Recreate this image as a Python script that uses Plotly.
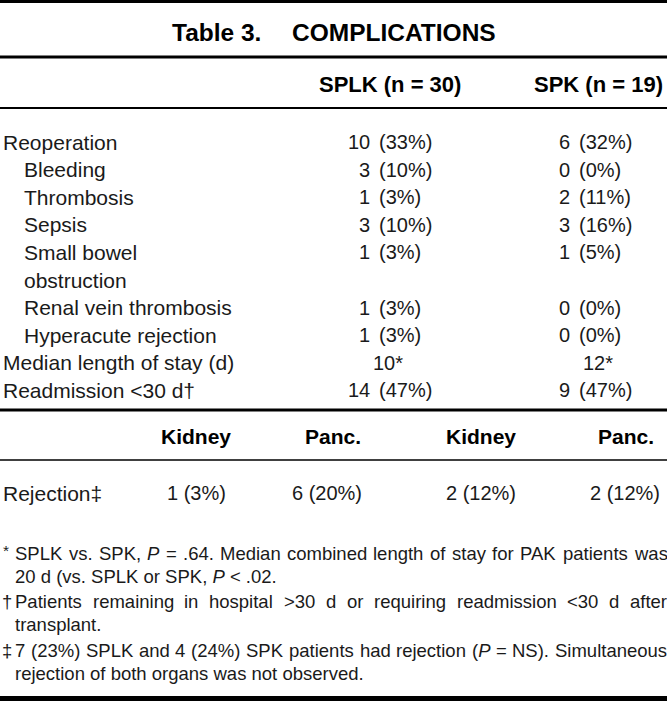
import re
import plotly.graph_objects as go

# ---------------- data ----------------
title_parts = ["Table 3.", "COMPLICATIONS"]
group_headers = ["SPLK (n = 30)", "SPK (n = 19)"]

row_labels = ["Reoperation", "Bleeding", "Thrombosis", "Sepsis",
              "Small bowel<br>obstruction", "Renal vein thrombosis",
              "Hyperacute rejection", "Median length of stay (d)",
              "Readmission &lt;30 d†"]
row_indent = [0, 1, 1, 1, 1, 1, 1, 0, 0]
row_lines = [0, 1, 2, 3, 4, 6, 7, 8, 9]

splk_values = ["10 (33%)", "3 (10%)", "1 (3%)", "3 (10%)", "1 (3%)",
               "1 (3%)", "1 (3%)", "10*", "14 (47%)"]
spk_values = ["6 (32%)", "0 (0%)", "2 (11%)", "3 (16%)", "1 (5%)",
              "0 (0%)", "0 (0%)", "12*", "9 (47%)"]

rejection_label = "Rejection‡"
rejection_headers = ["Kidney", "Panc.", "Kidney", "Panc."]
rejection_values = ["1 (3%)", "6 (20%)", "2 (12%)", "2 (12%)"]

footnote_markers = ["*", "†", "‡"]
footnote_lines = [
    ["SPLK vs. SPK, <i>P</i> = .64. Median combined length of stay for PAK patients was",
     "20 d (vs. SPLK or SPK, <i>P</i> &lt; .02."],
    ["Patients remaining in hospital &gt;30 d or requiring readmission &lt;30 d after",
     "transplant."],
    ["7 (23%) SPLK and 4 (24%) SPK patients had rejection (<i>P</i> = NS). Simultaneous",
     "rejection of both organs was not observed."],
]

# ---------------- styling ----------------
W, H = 667, 701
FONT = "Liberation Sans, Arial, Helvetica, sans-serif"
BODY = 21
VAL = 20
FOOT = 18.5
TXT = "#1a1a1a"

# Arial / Liberation Sans advance widths (1/1000 em) for justification
_AW = {" ": 278, "(": 333, ")": 333, "*": 389, ",": 278, ".": 278, "%": 889,
       "<": 584, "=": 584, ">": 584, "†": 556, "‡": 556}
for c in "0123456789":
    _AW[c] = 556
_AW.update(dict(zip("ABCDEFGHIJKLMNOPQRSTUVWXYZ",
                    [667, 667, 722, 722, 667, 611, 778, 722, 278, 500, 667, 556, 833,
                     722, 778, 667, 778, 722, 667, 611, 722, 667, 944, 667, 667, 611])))
_AW.update(dict(zip("abcdefghijklmnopqrstuvwxyz",
                    [556, 556, 500, 556, 556, 278, 556, 556, 222, 222, 500, 222, 833,
                     556, 556, 556, 556, 333, 500, 278, 556, 500, 722, 500, 500, 500])))


def text_width(s, size):
    s = re.sub(r"<[^>]+>", "", s).replace("&lt;", "<").replace("&gt;", ">")
    return sum(_AW.get(c, 556) for c in s) * size / 1000.0


fig = go.Figure()
fig.add_trace(go.Scatter(x=[0, W], y=[0, H], mode="markers",
                         marker=dict(opacity=0), hoverinfo="skip", showlegend=False))

ann = []


def text(x, y, s, anchor="left", size=BODY, bold=False, color=TXT):
    ann.append(dict(x=x, y=y, xref="x", yref="y", text=(f"<b>{s}</b>" if bold else s),
                    showarrow=False, xanchor=anchor, yanchor="middle",
                    font=dict(family=FONT, size=size, color=color), align="left"))


# title & headers
text(170, 32, title_parts[0], anchor="left", size=24.5, bold=True, color="#000")
text(498, 32, title_parts[1], anchor="right", size=24.5, bold=True, color="#000")
text(463, 84, group_headers[0], anchor="right", size=22, bold=True, color="#000")
text(665, 84, group_headers[1], anchor="right", size=22, bold=True, color="#000")

ROW0, DY = 142, 27.6
for lab, ind, ln, a, b in zip(row_labels, row_indent, row_lines, splk_values, spk_values):
    y = ROW0 + DY * ln
    for j, p in enumerate(lab.split("<br>")):
        text(1 + 21 * ind, y + DY * j, p)
    for val, xr, xc in ((a, 372, 388), (b, 572, 598)):
        if " (" in val:
            cnt, pct = val.split(" ", 1)
            text(xr, y, cnt, anchor="right", size=VAL)
            text(xr + 5, y, pct, anchor="left", size=VAL)
        else:
            text(xc, y, val, anchor="center", size=VAL)

# rejection block
rej_head_x = [196, 333, 481, 626]
rej_val_x = [196, 327, 481, 625]
for h, v, xh, xv in zip(rejection_headers, rejection_values, rej_head_x, rej_val_x):
    text(xh, 436, h, anchor="center", size=21, bold=True, color="#000")
    text(xv, 493, v, anchor="center", size=VAL)
text(1, 493, rejection_label)

# footnotes (first line of each note justified, second line flush left)
foot_y = [[553, 576], [601, 624], [650, 673]]
X0, X1 = 13, 665
for mk, lines, ys in zip(footnote_markers, footnote_lines, foot_y):
    if mk == "*":
        text(1, ys[0] - 3, mk, size=FOOT - 3)
    else:
        text(0, ys[0], mk, size=FOOT)
    words = lines[0].split(" ")
    widths = [text_width(w, FOOT) for w in words]
    gap = (X1 - X0 - sum(widths)) / (len(words) - 1)
    x = X0
    for w, wd in zip(words, widths):
        text(x, ys[0], w, size=FOOT)
        x += wd + gap
    text(X0, ys[1], lines[1], size=FOOT)

shapes = []
for y, w in ((1.5, 3), (57, 3), (108, 2), (410, 3), (460, 1.5), (698.5, 5)):
    shapes.append(dict(type="line", xref="x", yref="y", x0=0, x1=W, y0=y, y1=y,
                       line=dict(color="#000", width=w)))

fig.update_layout(
    width=W, height=H, margin=dict(l=0, r=0, t=0, b=0),
    paper_bgcolor="white", plot_bgcolor="white",
    xaxis=dict(range=[0, W], visible=False, fixedrange=True),
    yaxis=dict(range=[H, 0], visible=False, fixedrange=True),
    annotations=ann, shapes=shapes, showlegend=False,
)
fig.write_html("out.html", config={"displayModeBar": False},
               post_script="document.body.style.margin='0px';document.body.style.overflow='hidden';")
